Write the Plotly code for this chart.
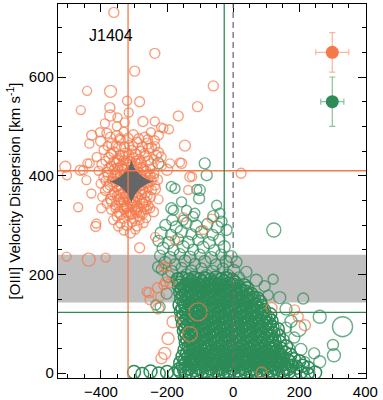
import plotly.graph_objects as go

# ---------------- data ----------------
# orange component: isolated spaxels (x velocity, sigma, symbol size)
orange_outer = [
    (-361, 731, 10), (-237, 648, 10), (-298, 612, 10), (-442, 572, 9), (-371, 571, 12), (-321, 552, 9),
    (-283, 550, 10), (-461, 533, 9), (-373, 538, 10), (-316, 528, 9), (-166, 521, 10), (-273, 510, 10),
    (-237, 510, 9), (-388, 506, 9), (-350, 518, 9), (-328, 508, 9), (-218, 498, 9), (-108, 540, 10),
    (-211, 496, 9), (-194, 494, 9), (-146, 461, 11), (-428, 482, 10), (-403, 488, 9), (-372, 522, 11),
    (-352, 500, 9), (-508, 418, 11), (-503, 401, 9), (-463, 411, 10), (-441, 425, 9), (-413, 438, 9),
    (-435, 465, 9), (-156, 425, 10), (-191, 425, 9), (-200, 412, 11), (-124, 398, 9), (-454, 411, 9),
    (-444, 391, 9), (-434, 425, 9), (-429, 364, 9), (-469, 336, 9), (-414, 303, 9), (-399, 334, 9),
    (-363, 310, 9), (-288, 330, 9), (-283, 310, 9), (-237, 472, 9), (-225, 482, 9), (-161, 427, 9),
    (24, 405, 10), (-131, 398, 10), (-136, 371, 9), (-65, 313, 9), (-504, 236, 9), (-437, 230, 13),
    (-386, 234, 9), (-416, 297, 10), (-348, 297, 9), (-283, 254, 10), (-236, 276, 9), (-202, 215, 10),
    (-192, 182, 9), (-229, 173, 10), (-255, 163, 10), (-253, 148, 9), (-227, 131, 11), (-182, 104, 12),
    (-197, 70, 12), (-207, 40, 12), (-217, 30, 11), (-106, 124, 18), (-131, 79, 15), (86, 1, 11),
    (116, 132, 11), (186, 128, 10), (197, 114, 10), (217, 97, 11), (-211, 215, 9), (-211, 178, 9),
    (-90, 290, 9), (-176, 270, 9), (-151, 316, 9), (-262, 165, 9), (-221, 155, 9), (-206, 185, 9),
    (-60, 582, 10),
]

# orange component: crowded core around the integrated value
orange_core = [
    (-382, 486, 10), (-352, 480, 11), (-331, 489, 9), (-302, 483, 10), (-268, 478, 10), (-249, 488, 9),
    (-401, 470, 10), (-366, 465, 11), (-341, 472, 10), (-314, 462, 9), (-291, 468, 10), (-259, 465, 11), (-236, 460, 9),
    (-392, 452, 9), (-361, 448, 10), (-344, 456, 12), (-326, 446, 10), (-306, 452, 9), (-281, 449, 10), (-256, 455, 10), (-226, 447, 10),
    (-376, 437, 10), (-352, 433, 9), (-336, 440, 11), (-319, 430, 10), (-301, 438, 9), (-284, 433, 10), (-266, 440, 10), (-241, 434, 9), (-218, 438, 10),
    (-397, 423, 10), (-369, 420, 9), (-353, 426, 10), (-339, 418, 11), (-323, 425, 10), (-309, 419, 9), (-291, 424, 10), (-273, 417, 10), (-249, 423, 11), (-216, 420, 9),
    (-407, 410, 9), (-381, 407, 10), (-359, 413, 10), (-343, 404, 9), (-329, 411, 10), (-313, 405, 11), (-299, 410, 9), (-281, 404, 10), (-263, 409, 10), (-239, 404, 9),
    (-391, 397, 10), (-366, 394, 9), (-351, 400, 10), (-336, 392, 10), (-319, 398, 11), (-303, 391, 10), (-289, 397, 9), (-271, 392, 10), (-251, 399, 10), (-229, 392, 10),
    (-401, 384, 9), (-373, 381, 10), (-356, 387, 10), (-341, 379, 9), (-326, 385, 10), (-309, 378, 10), (-293, 384, 11), (-277, 379, 9), (-259, 386, 10), (-236, 380, 9),
    (-386, 370, 10), (-361, 366, 9), (-346, 372, 10), (-331, 364, 11), (-316, 370, 10), (-301, 364, 9), (-283, 370, 10), (-266, 365, 10), (-246, 371, 9),
    (-396, 357, 9), (-371, 353, 10), (-351, 359, 10), (-334, 351, 9), (-319, 357, 10), (-304, 350, 10), (-288, 356, 9), (-269, 351, 10), (-251, 357, 10), (-226, 352, 9),
    (-381, 344, 10), (-356, 340, 9), (-339, 346, 10), (-323, 338, 10), (-307, 344, 9), (-291, 338, 10), (-273, 344, 10), (-256, 339, 9),
    (-369, 331, 9), (-346, 326, 10), (-329, 333, 10), (-313, 325, 9), (-297, 331, 10), (-279, 326, 10), (-261, 332, 9), (-241, 327, 10),
    (-351, 318, 10), (-331, 313, 9), (-316, 320, 10), (-301, 312, 9), (-283, 318, 10), (-263, 314, 9),
    (-341, 303, 9), (-321, 299, 10), (-306, 305, 9), (-291, 298, 10), (-271, 304, 9),
    (-331, 289, 9), (-311, 284, 10), (-296, 291, 9),
    (-372, 478, 10), (-343, 476, 9), (-318, 476, 10), (-286, 475, 10), (-258, 474, 9),
    (-380, 460, 9), (-354, 459, 10), (-329, 458, 10), (-303, 460, 9), (-275, 458, 10), (-247, 457, 10),
    (-369, 444, 10), (-343, 442, 9), (-316, 441, 10), (-294, 444, 10), (-269, 445, 9), (-232, 441, 10),
    (-386, 430, 9), (-361, 428, 10), (-345, 430, 10), (-331, 432, 9), (-312, 428, 10), (-296, 430, 9), (-279, 426, 10), (-258, 430, 10),
    (-376, 415, 10), (-350, 416, 9), (-335, 414, 10), (-320, 417, 10), (-306, 414, 9), (-290, 417, 10), (-271, 412, 10), (-251, 414, 9),
    (-378, 401, 10), (-358, 404, 10), (-343, 397, 9), (-327, 403, 10), (-311, 399, 10), (-295, 402, 9), (-279, 398, 10), (-260, 402, 10), (-240, 397, 9),
    (-386, 390, 9), (-364, 388, 10), (-348, 392, 10), (-333, 389, 9), (-317, 391, 10), (-300, 389, 10), (-285, 391, 9), (-268, 387, 10), (-248, 390, 10),
    (-379, 376, 10), (-353, 377, 9), (-338, 374, 10), (-323, 378, 10), (-308, 373, 9), (-292, 377, 10), (-274, 373, 10), (-256, 377, 9), (-235, 373, 10),
    (-366, 361, 9), (-343, 363, 10), (-326, 359, 10), (-311, 362, 9), (-295, 359, 10), (-278, 362, 10), (-259, 359, 9),
    (-368, 348, 10), (-347, 351, 10), (-331, 347, 9), (-315, 350, 10), (-299, 347, 10), (-282, 350, 9), (-264, 347, 10),
    (-356, 334, 9), (-337, 338, 10), (-321, 335, 10), (-305, 337, 9), (-288, 334, 10), (-270, 337, 10), (-251, 334, 9),
    (-340, 322, 10), (-323, 325, 9), (-308, 322, 10), (-292, 325, 10), (-274, 322, 9),
]

# green component: isolated spaxels
green_outer = [
    (-226, 425, 11), (-86, 425, 11), (-80, 401, 11), (-187, 378, 10), (-176, 374, 10), (-110, 372, 10),
    (-101, 371, 11), (-103, 354, 11), (-187, 334, 11), (-184, 310, 11), (-50, 340, 10), (-40, 324, 10),
    (-35, 307, 11), (-121, 317, 10), (-151, 310, 10), (-181, 330, 10), (-156, 347, 10), (-141, 330, 10),
    (-116, 324, 10), (-60, 318, 11), (-20, 290, 11), (123, 290, 14), (121, 190, 10), (106, 158, 10),
    (141, 153, 12), (212, 151, 11), (262, 114, 13), (331, 94, 20), (302, 57, 11), (305, 36, 13),
    (262, 23, 12), (217, 23, 10), (186, 18, 10), (232, 0, 10), (151, 67, 12), (197, 90, 16), (86, 94, 11),
    (-227, 215, 11), (-234, 138, 10), (-221, 134, 10), (-201, 161, 11), (10, 225, 11), (40, 205, 11),
    (70, 188, 12), (95, 176, 11), (160, 130, 12), (175, 105, 12), (160, 92, 11), (185, 72, 11),
    (140, 42, 12), (170, 50, 11), (205, 48, 12), (245, 40, 11), (120, 30, 12), (165, 28, 12),
]

# green component: broad ring above the main clump
green_upper = [
    (-205, 300, 11), (-172, 296, 12), (-141, 304, 11), (-112, 298, 12), (-78, 302, 11), (-48, 296, 12),
    (-218, 284, 12), (-188, 280, 11), (-157, 287, 12), (-126, 281, 11), (-96, 286, 12), (-62, 280, 11),
    (-226, 268, 11), (-196, 264, 12), (-166, 271, 11), (-136, 265, 12), (-106, 270, 11), (-72, 264, 12), (-42, 270, 11),
    (-212, 253, 12), (-181, 249, 11), (-151, 256, 12), (-121, 250, 11), (-91, 255, 12), (-57, 249, 11), (-27, 256, 12),
    (-221, 238, 11), (-191, 234, 12), (-161, 241, 11), (-131, 235, 12), (-101, 240, 11), (-66, 234, 12), (-36, 240, 11), (-6, 236, 12),
    (-206, 224, 12), (-176, 220, 11), (-146, 227, 12), (-116, 221, 11), (-86, 226, 12), (-52, 220, 11), (-21, 226, 12),
    (-216, 210, 11), (-186, 206, 12), (-156, 213, 11), (-126, 207, 12), (-96, 212, 11), (-61, 206, 12), (-31, 212, 11), (2, 208, 12),
    (-196, 196, 12), (-166, 192, 11), (-141, 199, 12), (-111, 193, 11), (-81, 198, 12), (-46, 192, 11), (-16, 198, 12), (18, 194, 11),
]

# green component: dense main clump
green_core = [
    (-160, 183), (-143, 179), (-127, 186), (-110, 181), (-94, 185), (-77, 179), (-61, 184), (-44, 180), (-28, 186), (-12, 181), (5, 184),
    (-156, 170), (-139, 166), (-123, 172), (-106, 168), (-90, 171), (-73, 166), (-57, 172), (-41, 167), (-24, 171), (-8, 166), (8, 170), (25, 167), (42, 172),
    (-151, 157), (-135, 153), (-118, 159), (-102, 154), (-86, 158), (-69, 153), (-53, 159), (-36, 154), (-20, 158), (-4, 153), (13, 159), (29, 154), (46, 158), (62, 153),
    (-148, 144), (-131, 140), (-115, 146), (-98, 141), (-82, 145), (-66, 140), (-49, 146), (-33, 141), (-16, 145), (0, 140), (17, 146), (33, 141), (50, 145), (66, 140), (82, 144),
    (-153, 131), (-137, 127), (-120, 133), (-104, 128), (-87, 132), (-71, 127), (-55, 133), (-38, 128), (-22, 132), (-5, 127), (11, 133), (28, 128), (44, 132), (61, 127), (77, 131), (93, 128),
    (-150, 118), (-133, 114), (-117, 120), (-101, 115), (-84, 119), (-68, 114), (-51, 120), (-35, 115), (-18, 119), (-2, 114), (15, 120), (31, 115), (48, 119), (64, 114), (80, 118), (97, 115), (112, 119),
    (-147, 105), (-130, 101), (-114, 107), (-97, 102), (-81, 106), (-65, 101), (-48, 107), (-32, 102), (-15, 106), (1, 101), (18, 107), (34, 102), (51, 106), (67, 101), (84, 105), (100, 102), (116, 106),
    (-144, 92), (-128, 88), (-111, 94), (-95, 89), (-78, 93), (-62, 88), (-45, 94), (-29, 89), (-13, 93), (4, 88), (20, 94), (37, 89), (53, 93), (70, 88), (86, 92), (103, 89), (119, 93), (135, 89),
    (-141, 79), (-125, 75), (-108, 81), (-92, 76), (-75, 80), (-59, 75), (-43, 81), (-26, 76), (-10, 80), (7, 75), (23, 81), (40, 76), (56, 80), (73, 75), (89, 79), (106, 76), (122, 80), (138, 76),
    (-138, 66), (-122, 62), (-105, 68), (-89, 63), (-73, 67), (-56, 62), (-40, 68), (-23, 63), (-7, 67), (10, 62), (26, 68), (43, 63), (59, 67), (75, 62), (92, 66), (108, 63), (125, 67), (141, 63),
    (-135, 53), (-119, 49), (-102, 55), (-86, 50), (-70, 54), (-53, 49), (-37, 55), (-20, 50), (-4, 54), (13, 49), (29, 55), (45, 50), (62, 54), (78, 49), (95, 53), (111, 50), (128, 54), (144, 50), (160, 54),
    (-139, 40), (-123, 36), (-106, 42), (-90, 37), (-73, 41), (-57, 36), (-41, 42), (-24, 37), (-8, 41), (9, 36), (25, 42), (42, 37), (58, 41), (74, 36), (91, 40), (107, 37), (124, 41), (140, 37), (157, 41), (173, 37),
    (-145, 27), (-128, 23), (-112, 29), (-95, 24), (-79, 28), (-63, 23), (-46, 29), (-30, 24), (-13, 28), (3, 23), (20, 29), (36, 24), (52, 28), (69, 23), (85, 27), (102, 24), (118, 28), (135, 24), (151, 28), (168, 24), (184, 28), (200, 24),
    (-152, 14), (-136, 10), (-119, 16), (-103, 11), (-86, 15), (-70, 10), (-54, 16), (-37, 11), (-21, 15), (-4, 10), (12, 16), (28, 11), (45, 15), (61, 10), (78, 14), (94, 11), (111, 15), (127, 11), (144, 15), (160, 11), (177, 15), (193, 11), (210, 15), (226, 11),
    (-300, 2), (-275, -2), (-250, 3), (-225, -1), (-200, 2), (-178, -2), (-160, 3), (-143, -1), (-127, 2), (-110, -2), (-94, 3), (-78, -1), (-61, 2), (-45, -2), (-28, 3), (-12, -1), (4, 2), (21, -2), (37, 3), (54, -1), (70, 2), (87, -2), (103, 3), (120, -1), (136, 2), (152, -2), (169, 3), (186, -1), (205, 2), (225, -2), (248, 1),
    (-168, 190), (-152, 192), (-135, 189), (-119, 193), (-102, 190), (-86, 192), (-69, 189), (-53, 193), (-36, 190), (-20, 192), (-3, 189),
    (-164, 177), (-148, 175), (-131, 179), (-115, 176), (-98, 178), (-82, 174), (-65, 179), (-49, 175), (-33, 178), (-16, 174), (0, 179), (17, 175), (33, 178),
    (-160, 164), (-143, 162), (-127, 166), (-110, 163), (-94, 165), (-78, 161), (-61, 166), (-45, 162), (-28, 165), (-12, 161), (5, 166), (21, 162), (38, 165), (54, 161),
    (-157, 151), (-140, 149), (-124, 153), (-107, 150), (-90, 152), (-74, 148), (-57, 153), (-41, 149), (-24, 152), (-8, 148), (9, 153), (25, 149), (42, 152), (58, 148), (74, 151),
    (-162, 138), (-145, 136), (-129, 140), (-112, 137), (-96, 139), (-79, 135), (-63, 140), (-46, 136), (-30, 139), (-13, 135), (3, 140), (20, 136), (36, 139), (53, 135), (69, 138), (85, 136),
    (-158, 125), (-142, 123), (-125, 127), (-109, 124), (-92, 126), (-76, 122), (-59, 127), (-43, 123), (-27, 126), (-10, 122), (7, 127), (23, 123), (40, 126), (56, 122), (72, 125), (89, 123),
    (-155, 112), (-139, 110), (-122, 114), (-106, 111), (-89, 113), (-73, 109), (-56, 114), (-40, 110), (-23, 113), (-7, 109), (10, 114), (26, 110), (43, 113), (59, 109), (76, 112), (92, 110), (106, 113),
    (-152, 99), (-136, 97), (-119, 101), (-103, 98), (-86, 100), (-70, 96), (-53, 101), (-37, 97), (-21, 100), (-4, 96), (12, 101), (29, 97), (45, 100), (62, 96), (78, 99), (95, 97), (110, 100),
    (-149, 86), (-133, 84), (-116, 88), (-100, 85), (-83, 87), (-67, 83), (-51, 88), (-34, 84), (-18, 87), (-1, 83), (15, 88), (32, 84), (48, 87), (64, 83), (81, 86), (97, 84), (114, 87),
    (-146, 73), (-130, 71), (-113, 75), (-97, 72), (-81, 74), (-64, 70), (-48, 75), (-31, 71), (-15, 74), (2, 70), (18, 75), (34, 71), (51, 74), (67, 70), (84, 73), (100, 71), (117, 74),
    (-143, 60), (-127, 58), (-110, 62), (-94, 59), (-78, 61), (-61, 57), (-45, 62), (-28, 58), (-12, 61), (5, 57), (21, 62), (37, 58), (54, 61), (70, 57), (87, 60), (103, 58), (120, 61),
    (-147, 47), (-131, 45), (-114, 49), (-98, 46), (-81, 48), (-65, 44), (-49, 49), (-32, 45), (-16, 48), (1, 44), (17, 49), (33, 45), (50, 48), (66, 44), (83, 47), (99, 45), (116, 48), (132, 45),
    (-153, 34), (-136, 32), (-120, 36), (-103, 33), (-87, 35), (-71, 31), (-54, 36), (-38, 32), (-21, 35), (-5, 31), (12, 36), (28, 32), (44, 35), (61, 31), (77, 34), (94, 32), (110, 35), (127, 32), (143, 35),
    (-160, 21), (-144, 19), (-127, 23), (-111, 20), (-94, 22), (-78, 18), (-62, 23), (-45, 19), (-29, 22), (-12, 18), (4, 23), (20, 19), (37, 22), (53, 18), (70, 21), (86, 19), (103, 22), (119, 19), (136, 22), (152, 19),
    (-165, 7), (-148, 5), (-132, 9), (-115, 6), (-99, 8), (-82, 4), (-66, 9), (-50, 5), (-33, 8), (-17, 4), (0, 9), (16, 5), (33, 8), (49, 4), (66, 7), (82, 5), (99, 8), (115, 5), (132, 8), (148, 5), (165, 8),
]

# integrated values
star_x = [-308]
star_y = [388]

# typical uncertainties (example points)
err_x = [300, 300]
err_y = [650, 550]
err_dx = [50, 35]
err_dy = [40, 50]

# reference lines / band
orange_vline = -318
orange_hline = 410
green_vline = -27
green_hline = 123
systemic = 0
band_lo, band_hi = 143, 240

ORANGE = "rgb(244,121,74)"
GREEN = "rgb(44,139,87)"

fig = go.Figure()

fig.add_trace(go.Scatter(x=[p[0] for p in green_core], y=[p[1] for p in green_core], mode="markers",
                         marker=dict(symbol="circle-open", size=13, color=GREEN, line=dict(width=1.5)),
                         showlegend=False, hoverinfo="skip"))
for pts in (green_upper, green_outer):
    fig.add_trace(go.Scatter(x=[p[0] for p in pts], y=[p[1] for p in pts], mode="markers",
                             marker=dict(symbol="circle-open", size=[p[2] for p in pts], color=GREEN,
                                         line=dict(width=1.4)),
                             showlegend=False, hoverinfo="skip"))
for pts in (orange_core, orange_outer):
    fig.add_trace(go.Scatter(x=[p[0] for p in pts], y=[p[1] for p in pts], mode="markers",
                             marker=dict(symbol="circle-open", size=[p[2] for p in pts], color=ORANGE,
                                         line=dict(width=1.4)),
                             showlegend=False, hoverinfo="skip"))

# error-bar examples
fig.add_trace(go.Scatter(x=[err_x[0]], y=[err_y[0]], mode="markers",
                         marker=dict(size=13, color=ORANGE),
                         error_x=dict(type="data", array=[err_dx[0]], color="rgba(244,121,74,0.55)", thickness=1.2, width=3),
                         error_y=dict(type="data", array=[err_dy[0]], color="rgba(244,121,74,0.55)", thickness=1.2, width=3),
                         showlegend=False))
fig.add_trace(go.Scatter(x=[err_x[1]], y=[err_y[1]], mode="markers",
                         marker=dict(size=13, color=GREEN),
                         error_x=dict(type="data", array=[err_dx[1]], color="rgba(44,139,87,0.55)", thickness=1.2, width=3),
                         error_y=dict(type="data", array=[err_dy[1]], color="rgba(44,139,87,0.55)", thickness=1.2, width=3),
                         showlegend=False))

# shapes
fig.add_shape(type="rect", xref="paper", x0=0, x1=1, yref="y", y0=band_lo, y1=band_hi,
              fillcolor="rgb(192,192,192)", line=dict(width=0), layer="below")
fig.add_shape(type="line", xref="x", x0=orange_vline, x1=orange_vline, yref="paper", y0=0, y1=1,
              line=dict(color=ORANGE, width=1.3), layer="above")
fig.add_shape(type="line", xref="paper", x0=0, x1=1, yref="y", y0=orange_hline, y1=orange_hline,
              line=dict(color=ORANGE, width=1.3), layer="above")
fig.add_shape(type="line", xref="x", x0=green_vline, x1=green_vline, yref="paper", y0=0, y1=1,
              line=dict(color=GREEN, width=1.3), layer="above")
fig.add_shape(type="line", xref="paper", x0=0, x1=1, yref="y", y0=green_hline, y1=green_hline,
              line=dict(color=GREEN, width=1.3), layer="above")
fig.add_shape(type="line", xref="x", x0=systemic, x1=systemic, yref="paper", y0=0, y1=1,
              line=dict(color="rgb(110,110,110)", width=1.3, dash="6px,4px"), layer="above")

# integrated star on top
fig.add_trace(go.Scatter(x=star_x, y=star_y, mode="markers",
                         marker=dict(symbol="star-diamond", size=31, color="rgb(102,102,102)",
                                     line=dict(width=0)),
                         showlegend=False))

fig.add_annotation(x=-369, y=685, xref="x", yref="y", text="J1404", showarrow=False,
                   font=dict(size=16, color="black", family="Liberation Sans, Arial, sans-serif"))

axis_common = dict(showgrid=False, zeroline=False, showline=True, linecolor="black", linewidth=1.3,
                   mirror="ticks", ticks="inside", ticklen=8, tickwidth=1, tickcolor="black",
                   automargin=False,
                   tickfont=dict(size=15, color="black"),
                   minor=dict(ticks="inside", ticklen=4, tickwidth=1, tickcolor="black", dtick=50, tick0=0))

fig.update_layout(
    width=383, height=400,
    margin=dict(l=58, r=17, t=4, b=22),
    paper_bgcolor="white", plot_bgcolor="white",
    font=dict(family="Liberation Sans, Arial, sans-serif", color="black"),
    xaxis=dict(range=[-530, 402], tickvals=[-400, -200, 0, 200, 400], **axis_common),
    yaxis=dict(range=[-10, 748], tickvals=[0, 200, 400, 600],
               title=dict(text="[OIII] Velocity Dispersion [km s<sup>-1</sup>]", font=dict(size=15), standoff=4),
               **axis_common),
)

fig.write_html("out.html", config={"displayModeBar": False},
               post_script="document.body.style.margin='0px';document.body.style.overflow='hidden';")
